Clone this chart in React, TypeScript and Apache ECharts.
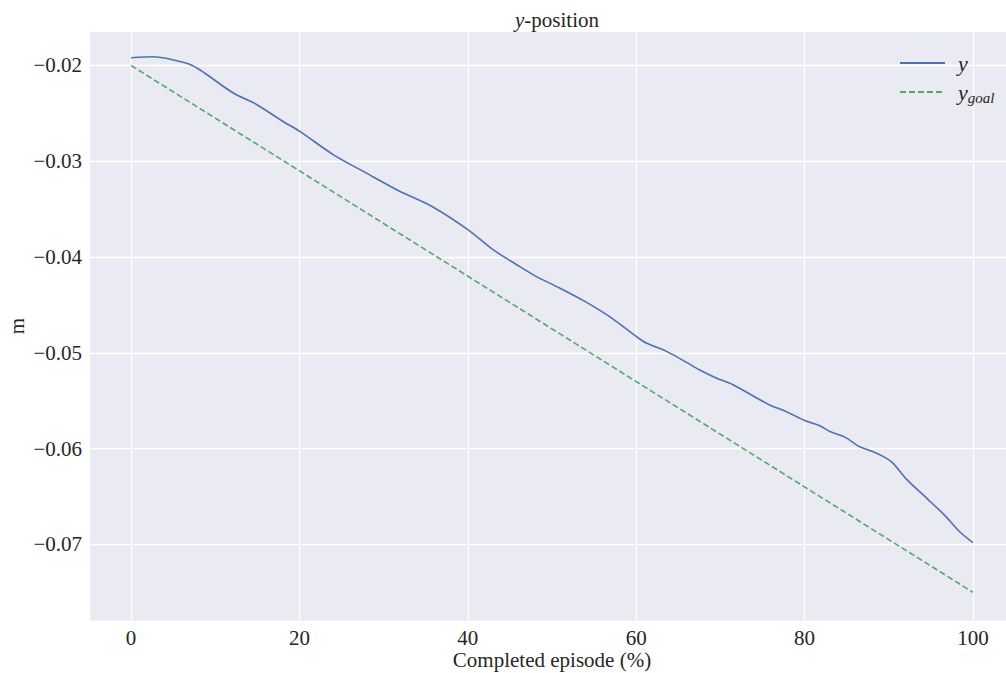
import React, { useEffect, useRef } from "react";
import * as echarts from "echarts";

const yActualX = [0, 2.6, 6.4, 8.1, 12.1, 14.9, 18.0, 20.0, 24.0, 27.9, 31.9, 35.7, 40.0, 43.0, 45.8, 48.1, 50.9, 53.9, 56.8, 60.0, 61.2, 63.6, 66.0, 67.5, 69.5, 71.5, 75.8, 77.8, 80.0, 81.8, 83.0, 84.8, 86.5, 88.1, 89.7, 90.5, 92.1, 94.5, 96.8, 98.4, 100];
const yActual = [-0.0192, -0.01909, -0.01972, -0.02042, -0.02285, -0.02407, -0.02582, -0.02686, -0.0293, -0.03121, -0.03313, -0.0347, -0.03714, -0.03923, -0.0408, -0.04202, -0.04323, -0.04463, -0.0462, -0.04829, -0.04898, -0.04985, -0.051, -0.05177, -0.05263, -0.05333, -0.05542, -0.05612, -0.05706, -0.05761, -0.05821, -0.0588, -0.05978, -0.0603, -0.06099, -0.06152, -0.06319, -0.06517, -0.0671, -0.06866, -0.06982];
const yGoalX = [0, 100];
const yGoal = [-0.02, -0.075];

const FONT = "'Liberation Serif', 'DejaVu Serif', serif";

export default function App() {
  const ref = useRef<HTMLDivElement>(null);
  useEffect(() => {
    if (!ref.current) return;
    const chart = echarts.init(ref.current, null, { renderer: "svg" });
    const fmt = (v: number) => {
      const s = Math.abs(v) < 1e-12 ? "0" : (Math.abs(v) >= 1 ? String(v) : String(Math.round(v * 1000) / 1000));
      return s.replace("-", "\u2212");
    };
    chart.setOption({
      animation: false,
      backgroundColor: "#ffffff",
      textStyle: { fontFamily: FONT },
      title: {
        text: "{it|y}{n|-position}",
        left: 552,
        textAlign: "center",
        top: 4,
        textStyle: {
          fontWeight: "normal",
          rich: {
            it: { fontFamily: FONT, fontStyle: "italic", fontWeight: "normal", fontSize: 21, color: "#262626" },
            n: { fontFamily: FONT, fontWeight: "normal", fontSize: 21, color: "#262626" },
          },
        },
      },
      legend: {
        orient: "vertical",
        left: 894,
        top: 47,
        itemWidth: 45,
        itemHeight: 14,
        itemGap: 6,
        data: ["y", "y_goal"],
        itemStyle: { opacity: 0, borderWidth: 0 },
        formatter: (name: string) => (name === "y" ? "{it|y}" : "{it|y}{sub|goal}"),
        textStyle: {
          padding: [0, 0, 0, 8],
          rich: {
            it: { fontFamily: FONT, fontStyle: "italic", fontSize: 22, color: "#262626", lineHeight: 26 },
            sub: { fontFamily: FONT, fontStyle: "italic", fontSize: 15, color: "#262626", lineHeight: 26, verticalAlign: "bottom", padding: [10, 0, 0, 0] },
          },
        },
      },
      grid: { left: 89, top: 31, width: 926, height: 590, backgroundColor: "#EAEAF2", show: true, borderWidth: 0, outerBoundsMode: "none", containLabel: false },
      xAxis: {
        type: "value",
        min: -5,
        max: 105,
        name: "Completed episode (%)",
        nameLocation: "middle",
        nameGap: 28,
        nameMoveOverlap: false,
        nameTextStyle: { fontFamily: FONT, fontSize: 21, color: "#262626", verticalAlign: "top" },
        axisLine: { show: false },
        axisTick: { show: false },
        axisLabel: { showMinLabel: false, showMaxLabel: false, fontFamily: FONT, fontSize: 21, color: "#262626", margin: 6, formatter: fmt },
        splitLine: { show: true, lineStyle: { color: "#ffffff", width: 1.3 } },
      },
      yAxis: {
        type: "value",
        min: -0.078,
        max: -0.0164,
        name: "m",
        nameLocation: "middle",
        nameGap: 62,
        nameMoveOverlap: false,
        nameTextStyle: { fontFamily: FONT, fontSize: 21, color: "#262626" },
        axisLine: { show: false },
        axisTick: { show: false },
        axisLabel: { showMinLabel: false, showMaxLabel: false, fontFamily: FONT, fontSize: 21, color: "#262626", margin: 7, formatter: fmt },
        splitLine: { show: true, lineStyle: { color: "#ffffff", width: 1.3 } },
      },
      series: [
        {
          name: "y",
          type: "line",
          data: yActualX.map((x, i) => [x, yActual[i]]),
          showSymbol: false,
          symbol: "none",
          smooth: 0.3,
          lineStyle: { color: "#4C72B0", width: 1.6 },
          itemStyle: { color: "#4C72B0" },
        },
        {
          name: "y_goal",
          type: "line",
          data: yGoalX.map((x, i) => [x, yGoal[i]]),
          showSymbol: false,
          symbol: "none",
          lineStyle: { color: "#55A868", width: 1.6, type: [6, 3] },
          itemStyle: { color: "#55A868" },
        },
      ],
    });
    return () => chart.dispose();
  }, []);
  return <div ref={ref} style={{ width: 1006, height: 673, position: "absolute", left: 0, top: 0 }} />;
}
